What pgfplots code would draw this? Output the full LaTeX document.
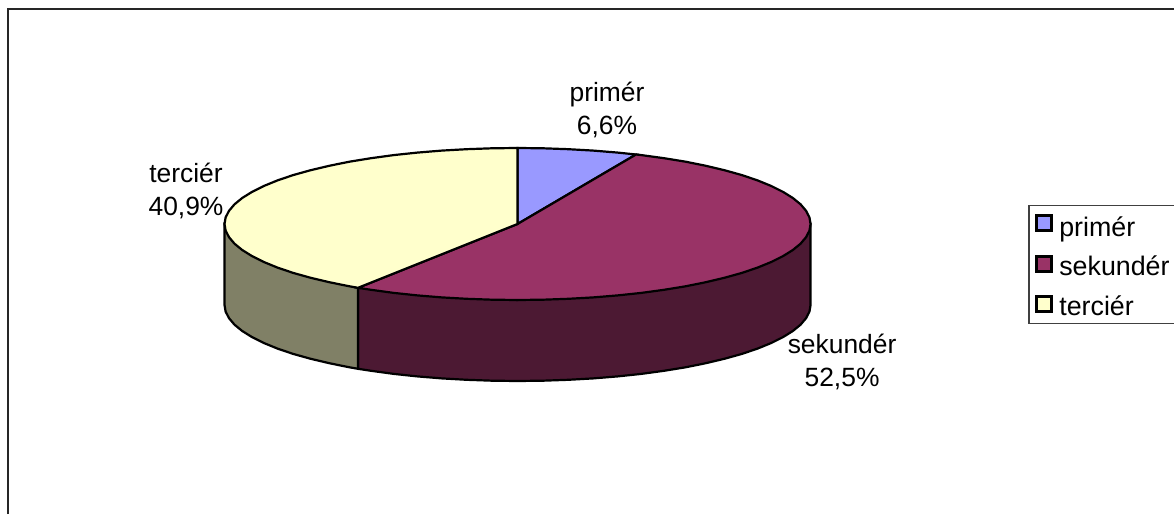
\documentclass[border=0pt]{standalone}
\usepackage{fontspec}
\setmainfont{Liberation Sans}
\usepackage{pgfplots}
\pgfplotsset{compat=1.18}
\definecolor{prim}{HTML}{9999FF}
\definecolor{sek}{HTML}{993366}
\definecolor{ter}{HTML}{FFFFCC}
\definecolor{seksd}{HTML}{4C1933}
\definecolor{tersd}{HTML}{808066}
\begin{document}
\begin{tikzpicture}[x=1pt,y=1pt]
\path[use as bounding box] (0,0) rectangle (1174,514);
\begin{axis}[
  at={(0,0)},anchor=south west,
  scale only axis,width=1174pt,height=514pt,
  xmin=-517.5,xmax=656.5,ymin=-290,ymax=224,
  hide axis,clip=false,
  font=\fontsize{26.4}{33}\selectfont,
  legend image code/.code={\draw[#1,line width=3pt] (0pt,-5pt) rectangle (15pt,10pt);},
  legend style={at={(axis cs:510.5,19)},anchor=north west,draw=black!75,line width=1.5pt,
    font=\fontsize{26.8}{33}\selectfont,
    inner xsep=6pt,inner ysep=6pt,row sep=16pt,column sep=3.5pt,
    nodes={inner xsep=3pt,inner ysep=1pt},
    legend cell align=left},
]
% frame, open to the right and bottom
\addplot[forget plot,black!85,line width=2pt] coordinates {(-509.5,-290) (-509.5,215) (656.5,215)};

% side of sekunder
\addplot[forget plot,fill=seksd,draw=black,line width=2.2pt] coordinates {
(293,0) (293,-81) (291.9,-87.6) (288.5,-94.2) (283,-100.7) (275.3,-107) (265.5,-113.1) (253.7,-119) (240,-124.6)
(224.4,-129.9) (207.2,-134.7) (188.3,-139.2) (168.1,-143.3) (146.5,-146.8) (123.8,-149.9)
(100.2,-152.4) (75.8,-154.4) (50.9,-155.8) (25.5,-156.7) (0,-157)
(-25.5,-156.7) (-50.9,-155.8) (-75.8,-154.4) (-100.2,-152.4) (-123.8,-149.9) (-146.5,-146.8) (-159.5,-144.8)
(-159.5,-63.8) (0,-76) (293,0)} --cycle;
% side of tercier
\addplot[forget plot,fill=tersd,draw=black,line width=2.2pt] coordinates {
(-159.5,-63.8) (-159.5,-144.8) (-168.1,-143.3) (-188.3,-139.2) (-207.2,-134.7) (-224.4,-129.9) (-240,-124.6)
(-253.7,-119) (-265.5,-113.1) (-275.3,-107) (-283,-100.7) (-288.5,-94.2) (-291.9,-87.6) (-293,-81)
(-293,0) (-159.5,-63.8)} --cycle;

% top of the pie
\addplot[fill=prim,draw=black,line width=2.2pt] coordinates {
(0,0) (0,76) (25.5,75.7) (50.9,74.8) (75.8,73.4) (100.2,71.4) (118.5,69.5)} --cycle;
\addlegendentry{\rule{0pt}{24pt}primér}
\addplot[fill=sek,draw=black,line width=2.2pt] coordinates {
(0,0) (118.5,69.5) (123.8,68.9) (146.5,65.8) (168.1,62.3) (188.3,58.2) (207.2,53.7) (224.4,48.9) (240,43.6)
(253.7,38) (265.5,32.1) (275.3,26) (283,19.7) (288.5,13.2) (291.9,6.6) (293,0)
(291.9,-6.6) (288.5,-13.2) (283,-19.7) (275.3,-26) (265.5,-32.1) (253.7,-38) (240,-43.6)
(224.4,-48.9) (207.2,-53.7) (188.3,-58.2) (168.1,-62.3) (146.5,-65.8) (123.8,-68.9)
(100.2,-71.4) (75.8,-73.4) (50.9,-74.8) (25.5,-75.7) (0,-76)
(-25.5,-75.7) (-50.9,-74.8) (-75.8,-73.4) (-100.2,-71.4) (-123.8,-68.9) (-146.5,-65.8) (-159.5,-63.8)} --cycle;
\addlegendentry{sekundér\hspace{12pt}}
\addplot[fill=ter,draw=black,line width=2.2pt] coordinates {
(0,0) (-159.5,-63.8) (-168.1,-62.3) (-188.3,-58.2) (-207.2,-53.7) (-224.4,-48.9) (-240,-43.6)
(-253.7,-38) (-265.5,-32.1) (-275.3,-26) (-283,-19.7) (-288.5,-13.2) (-291.9,-6.6) (-293,0)
(-291.9,6.6) (-288.5,13.2) (-283,19.7) (-275.3,26) (-265.5,32.1) (-253.7,38) (-240,43.6)
(-224.4,48.9) (-207.2,53.7) (-188.3,58.2) (-168.1,62.3) (-146.5,65.8) (-123.8,68.9)
(-100.2,71.4) (-75.8,73.4) (-50.9,74.8) (-25.5,75.7) (0,76)} --cycle;
\addlegendentry{terciér}

\node[align=center] at (axis cs:89.5,114) {primér\\6,6\%};
\node[align=center] at (axis cs:324.5,-138) {sekundér\\52,5\%};
\node[align=center] at (axis cs:-331.5,33) {terciér\\40,9\%};
\end{axis}
\end{tikzpicture}
\end{document}
